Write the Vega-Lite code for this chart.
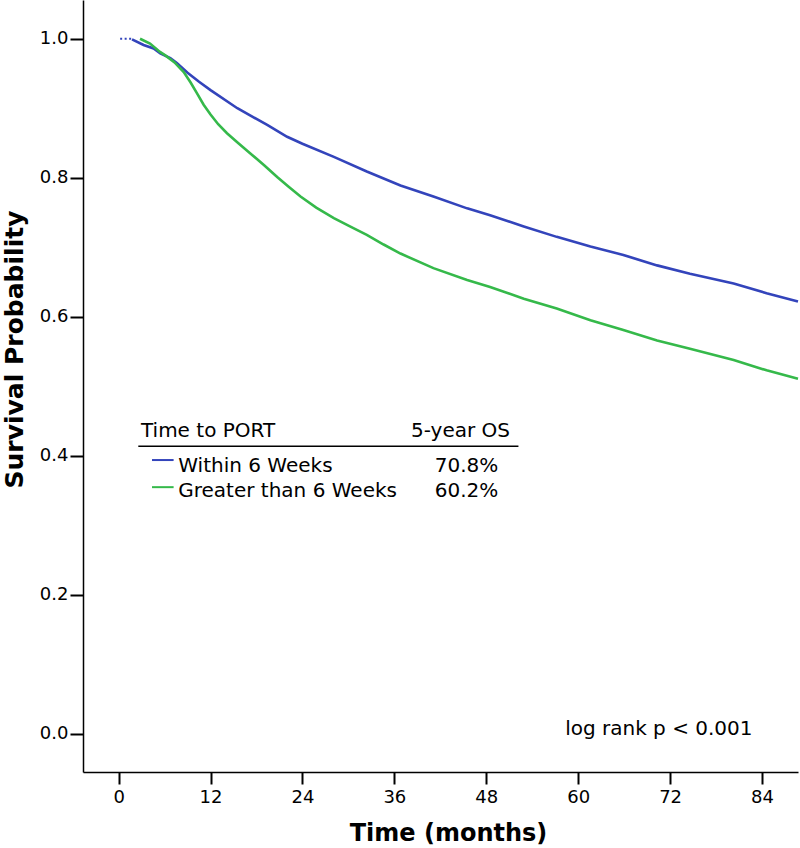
{
  "$schema": "https://vega.github.io/schema/vega-lite/v6.json",
  "width": 715,
  "height": 772,
  "autosize": "none",
  "padding": {"left": 83, "top": 0, "right": 2, "bottom": 76},
  "background": "white",
  "config": {"view": {"stroke": null}, "font": "DejaVu Sans"},
  "datasets": {
    "curves": [
      {"group": "Within 6 Weeks", "t": 1.75, "p": 0.999},
      {"group": "Within 6 Weeks", "t": 3.26, "p": 0.991},
      {"group": "Within 6 Weeks", "t": 4.57, "p": 0.986},
      {"group": "Within 6 Weeks", "t": 5.44, "p": 0.979},
      {"group": "Within 6 Weeks", "t": 6.75, "p": 0.972},
      {"group": "Within 6 Weeks", "t": 7.6, "p": 0.965},
      {"group": "Within 6 Weeks", "t": 9.0, "p": 0.951},
      {"group": "Within 6 Weeks", "t": 10.5, "p": 0.938},
      {"group": "Within 6 Weeks", "t": 12.0, "p": 0.926},
      {"group": "Within 6 Weeks", "t": 15.5, "p": 0.9},
      {"group": "Within 6 Weeks", "t": 19.4, "p": 0.876},
      {"group": "Within 6 Weeks", "t": 22.0, "p": 0.859},
      {"group": "Within 6 Weeks", "t": 24.0, "p": 0.849},
      {"group": "Within 6 Weeks", "t": 28.1, "p": 0.83},
      {"group": "Within 6 Weeks", "t": 32.4, "p": 0.809},
      {"group": "Within 6 Weeks", "t": 36.8, "p": 0.789},
      {"group": "Within 6 Weeks", "t": 41.1, "p": 0.773},
      {"group": "Within 6 Weeks", "t": 45.5, "p": 0.756},
      {"group": "Within 6 Weeks", "t": 48.5, "p": 0.746},
      {"group": "Within 6 Weeks", "t": 52.9, "p": 0.73},
      {"group": "Within 6 Weeks", "t": 57.2, "p": 0.715},
      {"group": "Within 6 Weeks", "t": 61.6, "p": 0.701},
      {"group": "Within 6 Weeks", "t": 65.9, "p": 0.689},
      {"group": "Within 6 Weeks", "t": 70.3, "p": 0.674},
      {"group": "Within 6 Weeks", "t": 74.6, "p": 0.662},
      {"group": "Within 6 Weeks", "t": 80.3, "p": 0.648},
      {"group": "Within 6 Weeks", "t": 84.6, "p": 0.634},
      {"group": "Within 6 Weeks", "t": 88.7, "p": 0.622},
      {"group": "Greater than 6 Weeks", "t": 2.8, "p": 1.0},
      {"group": "Greater than 6 Weeks", "t": 4.1, "p": 0.993},
      {"group": "Greater than 6 Weeks", "t": 5.4, "p": 0.981},
      {"group": "Greater than 6 Weeks", "t": 6.1, "p": 0.976},
      {"group": "Greater than 6 Weeks", "t": 7.3, "p": 0.966},
      {"group": "Greater than 6 Weeks", "t": 8.5, "p": 0.952},
      {"group": "Greater than 6 Weeks", "t": 9.4, "p": 0.937},
      {"group": "Greater than 6 Weeks", "t": 10.2, "p": 0.922},
      {"group": "Greater than 6 Weeks", "t": 11.1, "p": 0.905},
      {"group": "Greater than 6 Weeks", "t": 12.0, "p": 0.891},
      {"group": "Greater than 6 Weeks", "t": 13.0, "p": 0.877},
      {"group": "Greater than 6 Weeks", "t": 14.15, "p": 0.864},
      {"group": "Greater than 6 Weeks", "t": 15.6, "p": 0.85},
      {"group": "Greater than 6 Weeks", "t": 17.2, "p": 0.835},
      {"group": "Greater than 6 Weeks", "t": 19.0, "p": 0.818},
      {"group": "Greater than 6 Weeks", "t": 20.7, "p": 0.801},
      {"group": "Greater than 6 Weeks", "t": 22.2, "p": 0.787},
      {"group": "Greater than 6 Weeks", "t": 23.75, "p": 0.773},
      {"group": "Greater than 6 Weeks", "t": 25.8, "p": 0.757},
      {"group": "Greater than 6 Weeks", "t": 28.1, "p": 0.742},
      {"group": "Greater than 6 Weeks", "t": 30.2, "p": 0.73},
      {"group": "Greater than 6 Weeks", "t": 32.4, "p": 0.718},
      {"group": "Greater than 6 Weeks", "t": 34.6, "p": 0.704},
      {"group": "Greater than 6 Weeks", "t": 36.8, "p": 0.691},
      {"group": "Greater than 6 Weeks", "t": 41.1, "p": 0.67},
      {"group": "Greater than 6 Weeks", "t": 45.5, "p": 0.653},
      {"group": "Greater than 6 Weeks", "t": 48.5, "p": 0.643},
      {"group": "Greater than 6 Weeks", "t": 52.9, "p": 0.626},
      {"group": "Greater than 6 Weeks", "t": 57.2, "p": 0.612},
      {"group": "Greater than 6 Weeks", "t": 61.6, "p": 0.595},
      {"group": "Greater than 6 Weeks", "t": 65.9, "p": 0.581},
      {"group": "Greater than 6 Weeks", "t": 70.3, "p": 0.566},
      {"group": "Greater than 6 Weeks", "t": 74.6, "p": 0.554},
      {"group": "Greater than 6 Weeks", "t": 80.3, "p": 0.538},
      {"group": "Greater than 6 Weeks", "t": 84.6, "p": 0.523},
      {"group": "Greater than 6 Weeks", "t": 88.7, "p": 0.511}
    ],
    "censor": [
      {"group": "Within 6 Weeks", "t": 0.2, "p": 1.0},
      {"group": "Within 6 Weeks", "t": 1.75, "p": 1.0}
    ],
    "headerRule": [
      {"t": 2.57, "t2": 52.2, "p": 0.414}
    ],
    "swatches": [
      {"group": "Within 6 Weeks", "t": 4.36, "t2": 7.18, "p": 0.394},
      {"group": "Greater than 6 Weeks", "t": 4.36, "t2": 7.18, "p": 0.355}
    ],
    "leftText": [
      {"t": 2.92, "p": 0.427, "label": "Time to PORT"},
      {"t": 7.79, "p": 0.377, "label": "Within 6 Weeks"},
      {"t": 7.79, "p": 0.341, "label": "Greater than 6 Weeks"},
      {"t": 58.3, "p": -0.002, "label": "log rank p < 0.001"}
    ],
    "rightText": [
      {"t": 51.1, "p": 0.427, "label": "5-year OS"},
      {"t": 49.57, "p": 0.377, "label": "70.8%"},
      {"t": 49.57, "p": 0.341, "label": "60.2%"}
    ]
  },
  "encoding": {
    "x": {
      "field": "t",
      "type": "quantitative",
      "scale": {"domain": [-4.65, 88.7], "nice": false, "zero": false},
      "axis": {
        "values": [0, 12, 24, 36, 48, 60, 72, 84],
        "grid": false,
        "domainColor": "black",
        "domainWidth": 1.5,
        "tickColor": "black",
        "tickWidth": 2,
        "tickSize": 12,
        "labelFontSize": 18,
        "labelColor": "black",
        "labelPadding": 4,
        "labelFont": "DejaVu Sans",
        "title": "Time (months)",
        "titleFontSize": 24,
        "titleFontWeight": "bold",
        "titleColor": "black",
        "titleFont": "DejaVu Sans",
        "titleBaseline": "alphabetic",
        "titleX": 365,
        "titleY": 68
      }
    },
    "y": {
      "field": "p",
      "type": "quantitative",
      "scale": {"domain": [-0.0547, 1.0557], "nice": false, "zero": false},
      "axis": {
        "values": [0, 0.2, 0.4, 0.6, 0.8, 1.0],
        "format": ".1f",
        "grid": false,
        "domainColor": "black",
        "domainWidth": 1.5,
        "tickColor": "black",
        "tickWidth": 2,
        "tickSize": 13,
        "labelFontSize": 18,
        "labelColor": "black",
        "labelPadding": 2,
        "labelFont": "DejaVu Sans",
        "title": "Survival Probability",
        "titleFontSize": 25,
        "titleFontWeight": "bold",
        "titleColor": "black",
        "titleFont": "DejaVu Sans",
        "titleBaseline": "middle",
        "titleAlign": "center",
        "titleX": -69,
        "titleY": 349
      }
    }
  },
  "layer": [
    {
      "data": {"name": "curves"},
      "mark": {"type": "line", "strokeWidth": 2.6},
      "encoding": {
        "color": {
          "field": "group",
          "type": "nominal",
          "scale": {"domain": ["Within 6 Weeks", "Greater than 6 Weeks"], "range": ["#3344bb", "#35b94a"]},
          "legend": null
        }
      }
    },
    {
      "data": {"name": "censor"},
      "mark": {"type": "line", "strokeWidth": 2, "strokeDash": [2, 2.5], "color": "#3344bb"},
      "encoding": {}
    },
    {
      "data": {"name": "headerRule"},
      "mark": {"type": "rule", "color": "black", "strokeWidth": 1.5},
      "encoding": {"x2": {"field": "t2"}}
    },
    {
      "data": {"name": "swatches"},
      "mark": {"type": "rule", "strokeWidth": 2},
      "encoding": {
        "x2": {"field": "t2"},
        "color": {"field": "group", "type": "nominal", "legend": null}
      }
    },
    {
      "data": {"name": "leftText"},
      "mark": {"type": "text", "align": "left", "baseline": "alphabetic", "fontSize": 20, "color": "black", "font": "DejaVu Sans"},
      "encoding": {"text": {"field": "label"}}
    },
    {
      "data": {"name": "rightText"},
      "mark": {"type": "text", "align": "right", "baseline": "alphabetic", "fontSize": 20, "color": "black", "font": "DejaVu Sans"},
      "encoding": {"text": {"field": "label"}}
    }
  ]
}
